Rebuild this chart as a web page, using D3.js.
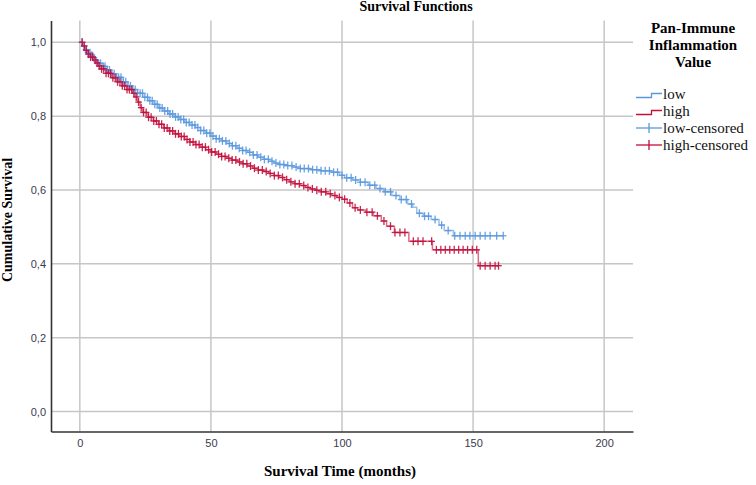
<!DOCTYPE html>
<html>
<head>
<meta charset="utf-8">
<script src="https://cdn.jsdelivr.net/npm/d3@7"></script>
<style>
  body { margin: 0; background: #fff; }
  svg { display: block; }
</style>
</head>
<body>
<div id="chart"></div>
<script>
// data
const groups = ["low", "high"];
const legendLabels = ["low", "high", "low-censored", "high-censored"];

// step curve: [time (months), cumulative survival after event]
const lowSteps = [
  [0,1.0],[1,0.99],[2,0.98],[3,0.972],[4,0.965],[5,0.958],[6,0.95],[7,0.943],[8,0.935],
  [10,0.925],[12,0.915],[14,0.905],[16,0.893],[18,0.882],[20,0.872],[22,0.862],[24,0.851],
  [26,0.842],[28,0.832],[30,0.822],[32,0.814],[34,0.806],[36,0.798],[38,0.791],[40,0.783],
  [42,0.776],[44,0.769],[46,0.761],[48,0.754],[50,0.746],[52,0.739],[54,0.733],[56,0.726],
  [58,0.72],[60,0.713],[62,0.707],[64,0.702],[66,0.695],[68,0.689],[70,0.683],[72,0.678],
  [74,0.673],[76,0.669],[78,0.666],[81,0.662],[84,0.658],[88,0.655],[92,0.652],[96,0.648],
  [99,0.64],[101,0.633],[104,0.627],[107,0.621],[110,0.613],[113,0.604],[116,0.595],
  [119,0.585],[122,0.574],[125,0.562],[127,0.553],[128.5,0.537],[131,0.529],[134,0.52],
  [137,0.505],[139,0.49],[142.5,0.476]
];
const highSteps = [
  [0,1.0],[1,0.99],[2,0.978],[3,0.968],[4,0.96],[5,0.952],[6,0.944],[7,0.936],[8,0.928],
  [10,0.916],[12,0.904],[14,0.893],[16,0.882],[18,0.872],[20,0.862],[21,0.852],[22,0.838],
  [23,0.823],[24,0.81],[26,0.797],[28,0.787],[30,0.778],[32,0.768],[34,0.76],[36,0.752],
  [38,0.745],[40,0.737],[42,0.73],[44,0.723],[46,0.716],[48,0.709],[50,0.703],[52,0.697],
  [54,0.691],[56,0.686],[58,0.681],[60,0.676],[62,0.671],[64,0.665],[66,0.659],[68,0.654],
  [70,0.65],[72,0.645],[74,0.639],[76,0.634],[78,0.628],[80,0.622],[82,0.617],[84,0.612],
  [86,0.607],[88,0.603],[90,0.599],[92,0.595],[94,0.59],[96,0.585],[98,0.58],[100,0.575],
  [102,0.565],[104,0.552],[106,0.546],[109,0.54],[112,0.53],[115,0.516],[117,0.502],
  [120,0.485],[125.5,0.461],[134.5,0.438],[152,0.395]
];

// censored times (months)
const lowCensor = [
  0.8,1.6,2.3,3.1,3.9,4.6,5.4,6.2,7.1,7.9,8.8,9.6,10.5,11.3,12.2,13.1,14,14.8,15.7,16.6,
  17.5,18.4,19.3,20.2,21.1,22,23,23.9,24.8,25.8,26.7,27.6,28.6,29.5,30.5,31.4,32.4,33.5,
  34.4,35.4,36.5,37.5,38.5,39.6,40.6,41.7,42.8,43.9,45,46.1,47.3,48.4,49.6,50.8,52,53.2,
  54.4,55.7,57,58.2,59.5,60.8,62.1,63.4,64.8,66.2,67.6,69,70.4,71.9,73.3,74.8,76.3,77.8,
  79.3,80.9,82.5,84.1,85.6,87.2,88.8,90.4,92,93.6,95.2,96.8,98.3,100,101.8,103.5,105.2,
  107,108.8,110.6,112.5,114.5,116.5,118.5,120.6,122.6,124.5,126.5,129.5,131.5,133,135.5,
  138,140.5,143,145,147,148.8,150.8,152.7,154.6,156.5,159,161.5
];
const highCensor = [
  0.9,1.7,2.5,3.3,4.1,4.9,5.8,6.6,7.4,8.3,9.1,10,10.9,11.7,12.6,13.5,14.4,15.3,16.2,17.1,
  18,18.9,19.8,20.6,21.5,22.4,23.4,24.3,25.3,26.2,27.2,28.2,29.2,30.2,31.2,32.2,33.3,34.3,
  35.4,36.5,37.6,38.7,39.8,40.9,42,43.2,44.3,45.5,46.7,47.9,49.1,50.3,51.6,52.9,54.1,55.4,
  56.8,58.1,59.5,60.9,62.3,63.7,65.1,66.6,68.1,69.6,71.1,72.6,74.2,75.7,77.3,78.9,80.5,
  82.1,83.7,85.4,87,88.7,90.4,92.1,93.8,95.5,97.3,99,101,103,105,107,109.5,111.5,113.5,
  116,118.5,120.2,122.1,124,127.2,129,130.9,134.2,136,137.7,139.4,141.1,142.8,144.5,146.2,
  147.9,149.7,151.4,152.7,154.6,156.5,158.4,159.7
];

const xTicks = [0, 50, 100, 150, 200];
const yTicks = [0, 0.2, 0.4, 0.6, 0.8, 1.0];

const colors = { low: "#5a98de", high: "#c20f3c" };

const width = 756, height = 485;
const svg = d3.select("#chart").append("svg")
    .attr("width", width)
    .attr("height", height);

const x = d3.scaleLinear().domain([-11, 211]).range([51, 633]);
const y = d3.scaleLinear().domain([-0.054, 1.059]).range([431.5, 20.5]);

// gridlines
svg.append("g").selectAll("line").data(xTicks).join("line")
    .attr("x1", d => x(d)).attr("x2", d => x(d))
    .attr("y1", y.range()[1]).attr("y2", y.range()[0])
    .attr("stroke", "#c6c6c6").attr("stroke-width", 1.5);
svg.append("g").selectAll("line").data(yTicks).join("line")
    .attr("x1", x.range()[0]).attr("x2", x.range()[1])
    .attr("y1", d => y(d)).attr("y2", d => y(d))
    .attr("stroke", "#c6c6c6").attr("stroke-width", 1.5);

// axes
const fmtY = d => d3.format(".1f")(d).replace(".", ",");
const xAxis = svg.append("g")
    .attr("transform", `translate(0,${y.range()[0]})`)
    .call(d3.axisBottom(x).tickValues(xTicks).tickSize(0).tickPadding(8).tickSizeOuter(0));
const yAxis = svg.append("g")
    .attr("transform", `translate(${x.range()[0]},0)`)
    .call(d3.axisLeft(y).tickValues(yTicks).tickFormat(fmtY).tickSize(0).tickPadding(5).tickSizeOuter(0));
[xAxis, yAxis].forEach(a => {
  a.select(".domain").attr("stroke", "#333").attr("stroke-width", 1.6);
  a.selectAll("text")
    .style("font-family", "'Liberation Sans', Arial, sans-serif")
    .style("font-size", "11px")
    .attr("fill", "#3a3a4e");
});

// curves
function survAt(t, steps) {
  let v = steps[0][1];
  for (const s of steps) { if (s[0] <= t) v = s[1]; }
  return v;
}
const line = d3.line()
    .x(d => x(d[0])).y(d => y(d[1]))
    .curve(d3.curveStepAfter);

const series = [
  { key: "low", steps: lowSteps, censor: lowCensor },
  { key: "high", steps: highSteps, censor: highCensor }
];

series.forEach(s => {
  const last = s.steps[s.steps.length - 1];
  const pts = s.steps.concat([[d3.max(s.censor), last[1]]]);
  svg.append("path")
    .datum(pts)
    .attr("fill", "none")
    .attr("stroke", colors[s.key])
    .attr("stroke-opacity", 0.6)
    .attr("stroke-width", 1.5)
    .attr("d", line);
});

series.forEach(s => {
  const g = svg.append("g")
      .attr("stroke", colors[s.key])
      .attr("stroke-width", 1.3)
      .attr("stroke-opacity", 0.9);
  const marks = g.selectAll("g").data(s.censor).join("g")
      .attr("transform", d => `translate(${x(d)},${y(survAt(d, s.steps))})`);
  marks.append("line").attr("x1", -3.3).attr("x2", 3.3).attr("y1", 0).attr("y2", 0);
  marks.append("line").attr("x1", 0).attr("x2", 0).attr("y1", -4).attr("y2", 4);
});

// titles
const serif = "'Liberation Serif', 'Times New Roman', serif";
svg.append("text")
    .attr("x", 416).attr("y", 11)
    .attr("text-anchor", "middle")
    .style("font-family", serif).style("font-weight", "bold").style("font-size", "14px")
    .text("Survival Functions");

svg.append("text")
    .attr("x", 340).attr("y", 476)
    .attr("text-anchor", "middle")
    .style("font-family", serif).style("font-weight", "bold").style("font-size", "15px")
    .text("Survival Time (months)");

svg.append("text")
    .attr("transform", "translate(12,220) rotate(-90)")
    .attr("text-anchor", "middle")
    .style("font-family", serif).style("font-weight", "bold").style("font-size", "14px")
    .text("Cumulative Survival");

// legend
const legTitle = ["Pan-Immune", "Inflammation", "Value"];
svg.append("g").selectAll("text").data(legTitle).join("text")
    .attr("x", 693)
    .attr("y", (d, i) => 33 + i * 17)
    .attr("text-anchor", "middle")
    .style("font-family", serif).style("font-weight", "bold").style("font-size", "15px")
    .text(d => d);

const leg = svg.append("g").selectAll("g").data(legendLabels).join("g")
    .attr("transform", (d, i) => `translate(636,${94 + i * 17})`);
leg.each(function(d, i) {
  const g = d3.select(this);
  const c = colors[i % 2 === 0 ? "low" : "high"];
  if (i < 2) {
    g.append("path")
      .attr("d", "M0,3.5H15.5V-0.5H26")
      .attr("fill", "none").attr("stroke", c).attr("stroke-width", 1.3);
  } else {
    g.append("line").attr("x1", 0).attr("x2", 26).attr("y1", 0).attr("y2", 0)
      .attr("stroke", c).attr("stroke-width", 1.3);
    g.append("line").attr("x1", 13).attr("x2", 13).attr("y1", -5).attr("y2", 5)
      .attr("stroke", c).attr("stroke-width", 1.3);
  }
  g.append("text")
    .attr("x", 27).attr("y", 5)
    .style("font-family", serif).style("font-size", "15px")
    .attr("fill", "#111")
    .text(d);
});
</script>
</body>
</html>
